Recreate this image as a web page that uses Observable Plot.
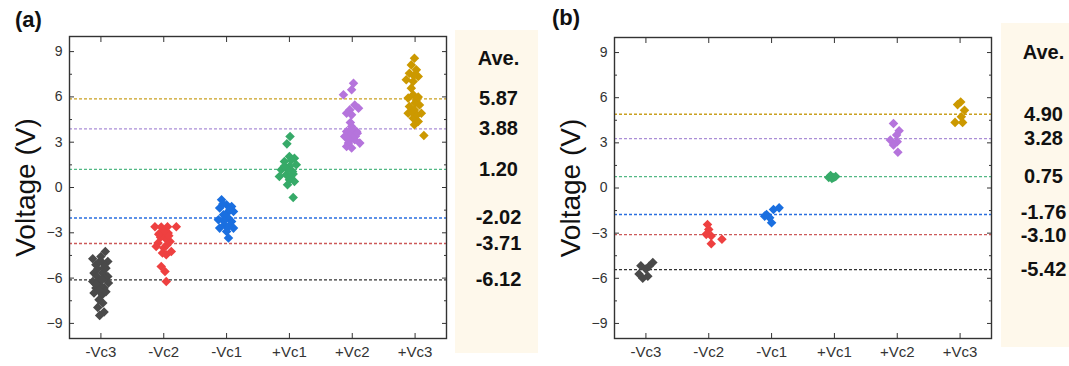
<!DOCTYPE html>
<html><head><meta charset="utf-8">
<script src="https://cdn.jsdelivr.net/npm/d3@7"></script>
<script src="https://cdn.jsdelivr.net/npm/@observablehq/plot@0.6"></script>
<style>
body{margin:0;background:#fff;font-family:"Liberation Sans",Arial,sans-serif;}
#wrap{position:relative;width:1069px;height:366px;overflow:hidden;}
.panel{position:absolute;top:0;}
.beige{position:absolute;background:#fef8eb;}
.tag{position:absolute;font-weight:bold;font-size:22px;line-height:22px;color:#111;}
</style></head><body><div id="wrap"></div>
<script>
// ---------- data ----------
const categories = ["-Vc3","-Vc2","-Vc1","+Vc1","+Vc2","+Vc3"];
const pointColors = ["#4a4a4a","#ee4040","#1a6fe0","#36aa68","#b574dc","#cc9900"];
const lineColors  = ["#333333","#cc5a5a","#2a6fe0","#52b884","#ab8ed6","#c9a020"];
const yTicks = [-9,-6,-3,0,3,6,9];
const yMinorTicks = [-7.5,-4.5,-1.5,1.5,4.5,7.5];

// panel (a): [jitter (category units), voltage]
const aNegVc3 = [[0.07,-4.24],[-0.13,-4.72],[0,-4.57],[0.11,-4.9],[-0.08,-5.12],[0.08,-5.34],[-0.11,-5.67],[0.03,-5.67],[0.11,-5.89],[-0.13,-6.22],[-0.03,-6.22],[0.12,-6.33],[-0.08,-6.66],[0.05,-6.66],[-0.11,-6.99],[0.02,-7.1],[-0.03,-7.43],[0.03,-7.65],[-0.05,-7.94],[0.05,-8.25],[-0.02,-8.47],[0.03,-5.0],[-0.05,-5.4],[0.06,-6.0],[-0.06,-5.9],[0,-6.5],[0.08,-6.9],[-0.03,-6.8],[0.05,-5.3],[-0.02,-4.9],[0.02,-6.1],[-0.08,-6.4]];
const aNegVc2 = [[-0.14,-2.6],[-0.04,-2.62],[0.06,-2.6],[0.2,-2.6],[-0.06,-3.02],[0.07,-3.02],[0.02,-3.35],[-0.09,-3.68],[0.1,-3.57],[-0.12,-3.9],[0,-4.01],[0.12,-4.24],[-0.02,-4.34],[0.04,-4.45],[-0.04,-5.23],[0.02,-5.56],[0.04,-6.22],[0,-2.9],[-0.05,-3.3],[0.05,-3.8],[-0.08,-3.1],[0.08,-3.2]];
const aNegVc1 = [[-0.08,-0.81],[0,-1.14],[-0.11,-1.36],[0.08,-1.26],[0.11,-1.59],[-0.05,-1.81],[0.03,-2.03],[-0.13,-2.14],[0.08,-2.25],[-0.03,-2.47],[-0.11,-2.69],[0.11,-2.69],[0,-2.91],[0.03,-3.35],[0,-1.7],[-0.05,-2.2],[0.05,-1.5],[0.03,-2.6],[-0.06,-1.1]];
const aPosVc1 = [[0.01,3.38],[-0.04,2.89],[0,2.05],[0.08,1.94],[-0.08,1.72],[0.11,1.5],[0,1.39],[-0.13,1.17],[0.05,1.06],[-0.05,0.84],[-0.16,0.73],[0,0.51],[0.08,0.4],[-0.03,0.18],[0.06,-0.66],[0.03,1.8],[-0.03,1.2],[0.06,0.9],[-0.08,1.4],[0.02,0.7]];
const aPosVc2 = [[0.02,6.91],[-0.01,6.47],[-0.14,6.14],[0.04,5.47],[-0.04,5.14],[0.1,5.25],[-0.01,4.81],[-0.09,4.92],[-0.01,4.04],[-0.09,3.71],[0.07,3.71],[-0.01,3.49],[-0.12,3.38],[0.04,3.16],[0.12,2.94],[-0.06,2.94],[-0.01,2.61],[-0.09,2.71],[0,3.9],[0.05,3.4],[-0.05,3.1],[0.08,3.6],[-0.03,4.3]];
const aPosVc3 = [[-0.01,8.56],[-0.06,8.12],[0.02,7.79],[-0.09,7.57],[0.05,7.35],[-0.14,7.13],[-0.03,7.02],[-0.06,6.58],[-0.03,6.14],[-0.11,5.92],[0.02,5.8],[0.07,5.47],[-0.09,5.36],[-0.01,5.14],[-0.11,4.92],[0.1,4.92],[-0.03,4.59],[0.05,4.37],[-0.01,4.15],[0.14,3.44],[0,5.6],[0.05,6.0],[-0.05,5.0],[0.03,4.8],[-0.02,7.4]];
const aAverages = [-6.12,-3.71,-2.02,1.20,3.88,5.87];

// panel (b)
const bNegVc3 = [[-0.08,-5.17],[0.11,-4.95],[0,-5.39],[-0.11,-5.72],[0.03,-5.87],[-0.05,-6.0],[0.05,-5.2]];
const bNegVc2 = [[-0.02,-2.42],[0,-2.75],[-0.04,-3.08],[0.04,-3.19],[0.21,-3.41],[0.04,-3.7]];
const bNegVc1 = [[-0.08,-1.76],[0.03,-1.43],[0.12,-1.32],[-0.03,-1.98],[0,-2.31],[-0.11,-1.87]];
const bPosVc1 = [[-0.06,0.83],[-0.01,0.7],[-0.04,0.64],[-0.09,0.7],[0.02,0.77]];
const bPosVc2 = [[-0.06,4.29],[0.03,3.8],[-0.01,3.52],[-0.11,3.19],[0,3.08],[-0.06,2.86],[0.01,2.38]];
const bPosVc3 = [[0.01,5.72],[-0.04,5.54],[0.07,5.17],[0.02,4.73],[-0.08,4.36],[0.04,4.36]];
const bAverages = [-5.42,-3.10,-1.76,0.75,3.28,4.90];

// ---------- drawing ----------
const FONT = "'Liberation Sans', Arial, sans-serif";
const Y_DOMAIN = [-10, 10];
const LABEL_GAP = 23;

// nudge label positions apart (in pixels, via a Plot scale) so the bold labels never collide
function labelPositions(values, top, bottom) {
  const ys = Plot.scale({y: {domain: Y_DOMAIN, range: [bottom, top]}});
  const items = values.map((v, i) => ({i, p: ys.apply(v)})).sort((a, b) => a.p - b.p);
  for (let k = 0; k < 20; k++) {
    for (let j = 1; j < items.length; j++) {
      const d = items[j].p - items[j - 1].p;
      if (d < LABEL_GAP) { const s = (LABEL_GAP - d) / 2; items[j].p += s; items[j - 1].p -= s; }
    }
  }
  const out = new Array(values.length);
  items.forEach(t => out[t.i] = ys.invert(t.p));
  return out;
}

function panel(groups, averages, o) {
  const pts = groups.flatMap((g, i) => g.map(([j, v]) => ({x: i + j, v, c: i})));
  const labelY = labelPositions(averages, o.marginTop, o.frameBottom);
  const av = averages.map((v, i) => ({v, c: i, ly: labelY[i]}));
  const idx = d3.range(categories.length);
  return Plot.plot({
    width: o.width, height: 366,
    marginLeft: o.marginLeft, marginRight: o.marginRight, marginTop: o.marginTop, marginBottom: 366 - o.frameBottom,
    style: {background: "transparent", fontFamily: FONT, color: "#333"},
    x: {domain: [-0.5, 5.5], label: null},
    y: {domain: Y_DOMAIN, label: null},
    marks: [
      Plot.ruleY(av, {y: "v", stroke: d => lineColors[d.c], strokeDasharray: "3,2", strokeWidth: 1.3}),
      Plot.dot(pts, {x: "x", y: "v", symbol: "diamond2", r: 4.3, fill: d => pointColors[d.c], stroke: null}),
      Plot.frame({stroke: "#333", strokeWidth: 1.4}),
      Plot.axisY(yTicks, {anchor: "left", tickSize: -5, tickPadding: 12, fontSize: 14, label: null}),
      Plot.axisY(yMinorTicks, {anchor: "left", tickSize: -3, tickFormat: () => "", label: null}),
      Plot.axisY(yTicks, {anchor: "right", tickSize: -5, tickFormat: () => "", label: null}),
      Plot.axisY(yMinorTicks, {anchor: "right", tickSize: -3, tickFormat: () => "", label: null}),
      Plot.axisX(idx, {anchor: "bottom", tickSize: -5, tickPadding: 13, fontSize: 15, tickFormat: i => categories[i], label: null}),
      Plot.axisX(idx, {anchor: "top", tickSize: -5, tickFormat: () => "", label: null}),
      Plot.text(["Voltage (V)"], {frameAnchor: "left", textAnchor: "middle", rotate: -90, dx: o.titleDx, fontSize: 28, fill: "#111"}),
      Plot.text(["Ave."], {frameAnchor: "top-right", textAnchor: "middle", dx: o.aveDx, dy: o.aveDy, fontSize: 20, fontWeight: "bold", fill: "#111"}),
      Plot.text(av, {y: "ly", text: d => d.v.toFixed(2), frameAnchor: "right", textAnchor: "middle", dx: o.aveDx, fontSize: 20, fontWeight: "bold", fill: "#111"})
    ]
  });
}

const wrap = document.getElementById("wrap");
function addDiv(cls, css, text) {
  const d = document.createElement("div");
  d.className = cls; d.style.cssText = css;
  if (text) d.textContent = text;
  wrap.appendChild(d);
  return d;
}
addDiv("beige", "left:455px;top:30px;width:83px;height:323px;");
addDiv("beige", "left:1001px;top:23px;width:68px;height:324px;");

const pa = panel([aNegVc3, aNegVc2, aNegVc1, aPosVc1, aPosVc2, aPosVc3], aAverages,
  {width: 540, marginLeft: 69, marginRight: 94, marginTop: 36, frameBottom: 338, titleDx: -43, aveDx: 52, aveDy: 14});
pa.classList.add("panel"); pa.style.left = "0px";
wrap.appendChild(pa);

const pb = panel([bNegVc3, bNegVc2, bNegVc1, bPosVc1, bPosVc2, bPosVc3], bAverages,
  {width: 529, marginLeft: 74, marginRight: 78, marginTop: 37, frameBottom: 338, titleDx: -43, aveDx: 52, aveDy: 7});
pb.classList.add("panel"); pb.style.left = "540px";
wrap.appendChild(pb);

addDiv("tag", "left:15px;top:9px;", "(a)");
addDiv("tag", "left:552px;top:7px;", "(b)");
</script></body></html>
